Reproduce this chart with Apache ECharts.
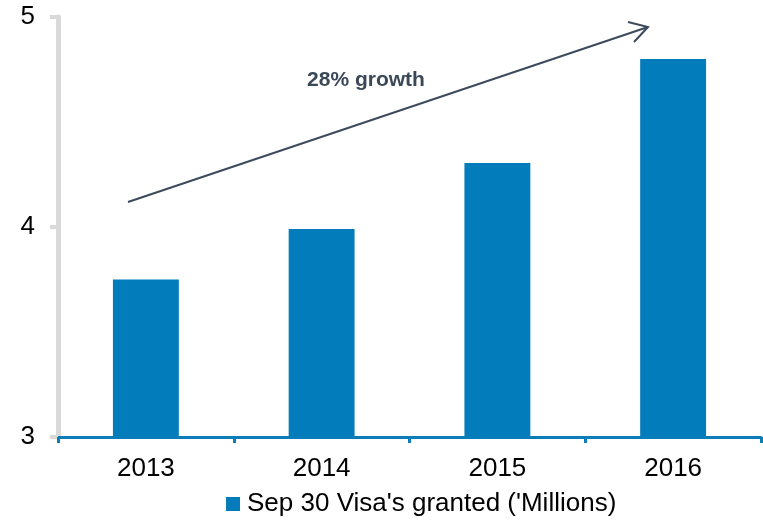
<!DOCTYPE html>
<html>
<head>
<meta charset="utf-8">
<style>html,body{margin:0;padding:0;background:#fff}#c{width:763px;height:520px}</style>
<script src="https://cdn.jsdelivr.net/npm/echarts@6/dist/echarts.min.js"></script>
</head>
<body>
<div id="c"></div>
<script>
var categories = ['2013', '2014', '2015', '2016'];
var visasGranted = [3.75, 3.99, 4.305, 4.80];
var seriesName = "Sep 30 Visa's granted ('Millions)";
var yTicks = [3, 4, 5];
var annotationText = '28% growth';

var chart = echarts.init(document.getElementById('c'), null, {renderer: 'canvas'});
var FONT = '"Liberation Sans", Arial, sans-serif';
var option = {
  animation: false,
  grid: {left: 58, right: 2, top: 17, bottom: 83, containLabel: false},
  legend: {
    data: [seriesName],
    top: 491,
    left: 226,
    padding: 0,
    icon: 'rect',
    itemWidth: 14,
    itemHeight: 14,
    itemGap: 10,
    textStyle: {fontFamily: FONT, fontSize: 26, lineHeight: 26, color: '#000', padding: [0, 0, 0, 2]}
  },
  xAxis: {
    type: 'category',
    data: categories,
    axisLine: {lineStyle: {color: '#0a7cba', width: 3}},
    axisTick: {show: true, length: 6, lineStyle: {color: '#0a7cba', width: 3}},
    axisLabel: {fontFamily: FONT, fontSize: 26, color: '#000', margin: 19}
  },
  yAxis: {
    type: 'value',
    min: yTicks[0],
    max: yTicks[yTicks.length - 1],
    interval: 1,
    axisLine: {show: true, lineStyle: {color: '#d9d9d9', width: 5}},
    axisTick: {show: true, length: 8, lineStyle: {color: '#d9d9d9', width: 4}},
    splitLine: {show: false},
    axisLabel: {fontFamily: FONT, fontSize: 26, color: '#000', margin: 23}
  },
  series: [{
    name: seriesName,
    type: 'bar',
    data: visasGranted,
    barWidth: '37.5%',
    itemStyle: {color: '#027cba'}
  }],
  graphic: [
    {
      type: 'line',
      shape: {x1: 128, y1: 202, x2: 648, y2: 27},
      style: {stroke: '#3c4b5b', lineWidth: 2},
      z: 10
    },
    {
      type: 'polyline',
      shape: {points: [[628, 22], [648, 27], [634, 42]]},
      style: {stroke: '#3c4b5b', lineWidth: 2, fill: null},
      z: 10
    },
    {
      type: 'text',
      x: 366, y: 80,
      style: {
        text: annotationText,
        fill: '#3a4858',
        font: 'bold 21px "Liberation Sans", Arial, sans-serif',
        align: 'center',
        verticalAlign: 'middle'
      },
      z: 10
    }
  ]
};
chart.setOption(option);
</script>
</body>
</html>
